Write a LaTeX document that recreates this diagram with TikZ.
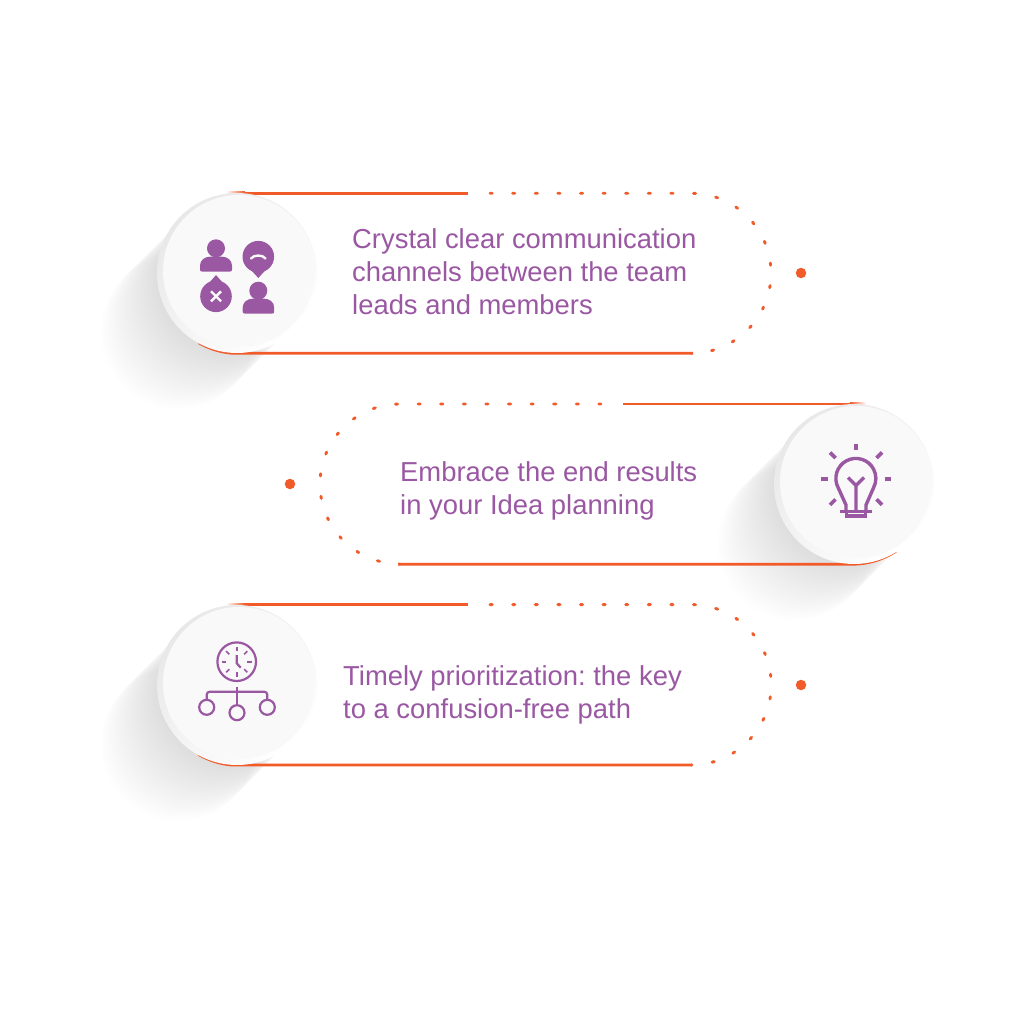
\documentclass[tikz,border=0pt]{standalone}
\usepackage{fontspec}
\usetikzlibrary{calc}
\setmainfont{Liberation Sans}
\frenchspacing
\definecolor{org}{HTML}{F15A29}
\definecolor{pur}{HTML}{9A58A3}
\tikzset{
  solidline/.style={draw=org,line width=2.9pt},
  dotline/.style={draw=org,line width=2.9pt,line cap=round,dash pattern=on 2.2pt off 20.4pt},
  enddot/.style={circle,fill=org,inner sep=0pt,minimum size=10.5pt},
  ringdisc/.style={circle,inner sep=0pt,minimum size=160pt,shading=axis,top color=white,bottom color=black!9,shading angle=225},
  innerdisc/.style={circle,inner sep=0pt,minimum size=152pt,fill=black!2.5},
  label/.style={anchor=west,align=left,inner sep=0pt,text=pur,font=\fontsize{27.4pt}{33pt}\selectfont},
  glyph/.style={fill=pur},
  thick icon/.style={draw=pur,line width=3.4pt},
  thin icon/.style={draw=pur,line width=2.2pt},
  whitemark/.style={draw=black!2.5,line width=2.4pt}
}
\newcommand{\castshadow}[2]{%
  \foreach \i in {1,...,34}{\fill[black,opacity=.005] ({#1-1.75*\i},{#2+1.75*\i}) circle (77pt);}%
}
\begin{document}
\begin{tikzpicture}[x=1pt,y=-1pt]
\useasboundingbox (0,0) rectangle (1024,1024);
\fill[white] (0,0) rectangle (1024,1024);
% shadows
\castshadow{237}{273}
\castshadow{854}{484}
\castshadow{237}{685}
% panel 1
\coordinate (p1a) at (245,193.3); \coordinate (p1b) at (468,193.3);
\coordinate (p1c) at (693,353.2); \coordinate (p1d) at (232,353.2);
\draw[solidline] (p1b) -- (p1a);
\shade[left color=white,right color=org] (226,191.85) rectangle (245,194.75);
\draw[solidline] (p1c) -- (p1d) arc[start angle=265,end angle=240,radius=80.4pt];
\draw[dotline] (490,193.3) -- (691,193.3) arc[start angle=90,end angle=-90,radius=80pt];
\node[enddot] (e1) at (801,273) {};
\node[ringdisc] (r1) at (237,273) {};
\node[innerdisc] (d1) at (239,271) {};
\node[label] (t1) at (352,271.5) {Crystal clear communication\\channels between the team\\leads and members};
% icon 1
\fill[glyph] (216,248.3) circle (9pt);
\fill[glyph] (201.8,271.5) .. controls (200.5,271.5) and (200,270.8) .. (200,269.5) -- (200,265.5) .. controls (200,260) and (205,256.7) .. (210,256.7) -- (222,256.7) .. controls (227,256.7) and (232,260) .. (232,265.5) -- (232,269.5) .. controls (232,270.8) and (231.5,271.5) .. (230.2,271.5) -- cycle;
\fill[glyph] (258.3,256.7) circle (15.8pt);
\fill[glyph] (251,270) -- (258.3,278) -- (265.6,270) -- cycle;
\draw[whitemark,line cap=round] (251,258.5) .. controls (254,254.5) and (262.5,254.5) .. (265.5,258.5);
\fill[glyph] (216,296.3) circle (15.8pt);
\fill[glyph] (209,283) -- (216,275) -- (223,283) -- cycle;
\draw[whitemark] (211,291.3) -- (221,301.3) (221,291.3) -- (211,301.3);
\fill[glyph] (258.3,290.7) circle (9pt);
\fill[glyph] (244.5,313.5) .. controls (243.2,313.5) and (242.7,312.8) .. (242.7,311.5) -- (242.7,307.5) .. controls (242.7,302) and (247.7,298.7) .. (252.7,298.7) -- (264.2,298.7) .. controls (269.2,298.7) and (274.2,302) .. (274.2,307.5) -- (274.2,311.5) .. controls (274.2,312.8) and (273.7,313.5) .. (272.4,313.5) -- cycle;
% panel 2
\coordinate (p2a) at (623,404); \coordinate (p2b) at (850,404);
\coordinate (p2c) at (398,564.2); \coordinate (p2d) at (852,564.2);
\draw[solidline] (p2a) -- (p2b);
\shade[left color=org,right color=white] (850,402.55) rectangle (866,405.45);
\draw[solidline] (p2c) -- (p2d) arc[start angle=270,end angle=303,radius=80.4pt];
\draw[dotline] (601,404) -- (400,404) arc[start angle=90,end angle=270,radius=80pt];
\node[enddot] (e2) at (290,484) {};
\node[ringdisc] (r2) at (854,484) {};
\node[innerdisc] (d2) at (856,482) {};
\node[label] (t2) at (400,490.5) {Embrace the end results\\in your Idea planning};
% icon 2
\draw[thick icon,line join=round] (846,511) -- (846,505) -- (838.2,487.8) arc[start angle=208,end angle=-28,radius=20pt] -- (866,505) -- (866,511);
\draw[thick icon] (840,511.7) -- (872,511.7);
\draw[thick icon] (846.5,511.7) rectangle (865.5,516);
\draw[thick icon] (856,510) -- (856,484.5) (848,477.5) -- (856,485.5) -- (864,477.5);
\foreach \a/\b/\c/\d in {856/444/856/450,821/478.7/827.5/478.7,884.5/478.7/891/478.7,830/452.5/835.5/458,882/452.5/876.5/458,830/504.8/835.5/499.3,882/504.8/876.5/499.3}
  \draw[draw=pur,line width=3.6pt] (\a,\b) -- (\c,\d);
% panel 3
\coordinate (p3a) at (245,604.6); \coordinate (p3b) at (468,604.6);
\coordinate (p3c) at (692,765); \coordinate (p3d) at (232,765);
\draw[solidline] (p3b) -- (p3a);
\shade[left color=white,right color=org] (226,603.15) rectangle (245,606.05);
\draw[solidline] (p3c) -- (p3d) arc[start angle=265,end angle=240,radius=80.4pt];
\draw[dotline] (490,604.6) -- (691,604.6) arc[start angle=90,end angle=-90,radius=80.2pt];
\node[enddot] (e3) at (801,685) {};
\node[ringdisc] (r3) at (237,685) {};
\node[innerdisc] (d3) at (239,683) {};
\node[label] (t3) at (343,695) {Timely prioritization: the key\\to a confusion-free path};
% icon 3
\draw[thin icon] (236.7,661.7) circle (19.3pt);
\foreach \ang in {0,45,...,315}
  \draw[draw=pur,line width=1.6pt] ($(236.7,661.7)+(\ang:10.5pt)$) -- ($(236.7,661.7)+(\ang:15pt)$);
\draw[thin icon] (236.7,655) -- (236.7,663.3) -- (240.7,667.7);
\draw[thin icon] (236.7,687.3) -- (236.7,705);
\draw[thin icon,rounded corners=3pt] (206.7,699.5) -- (206.7,691.7) -- (267.3,691.7) -- (267.3,699.5);
\draw[thin icon] (206.7,707.3) circle (7.5pt);
\draw[thin icon] (267.3,707.3) circle (7.5pt);
\draw[thin icon] (237,712.7) circle (7.5pt);
\end{tikzpicture}
\end{document}
